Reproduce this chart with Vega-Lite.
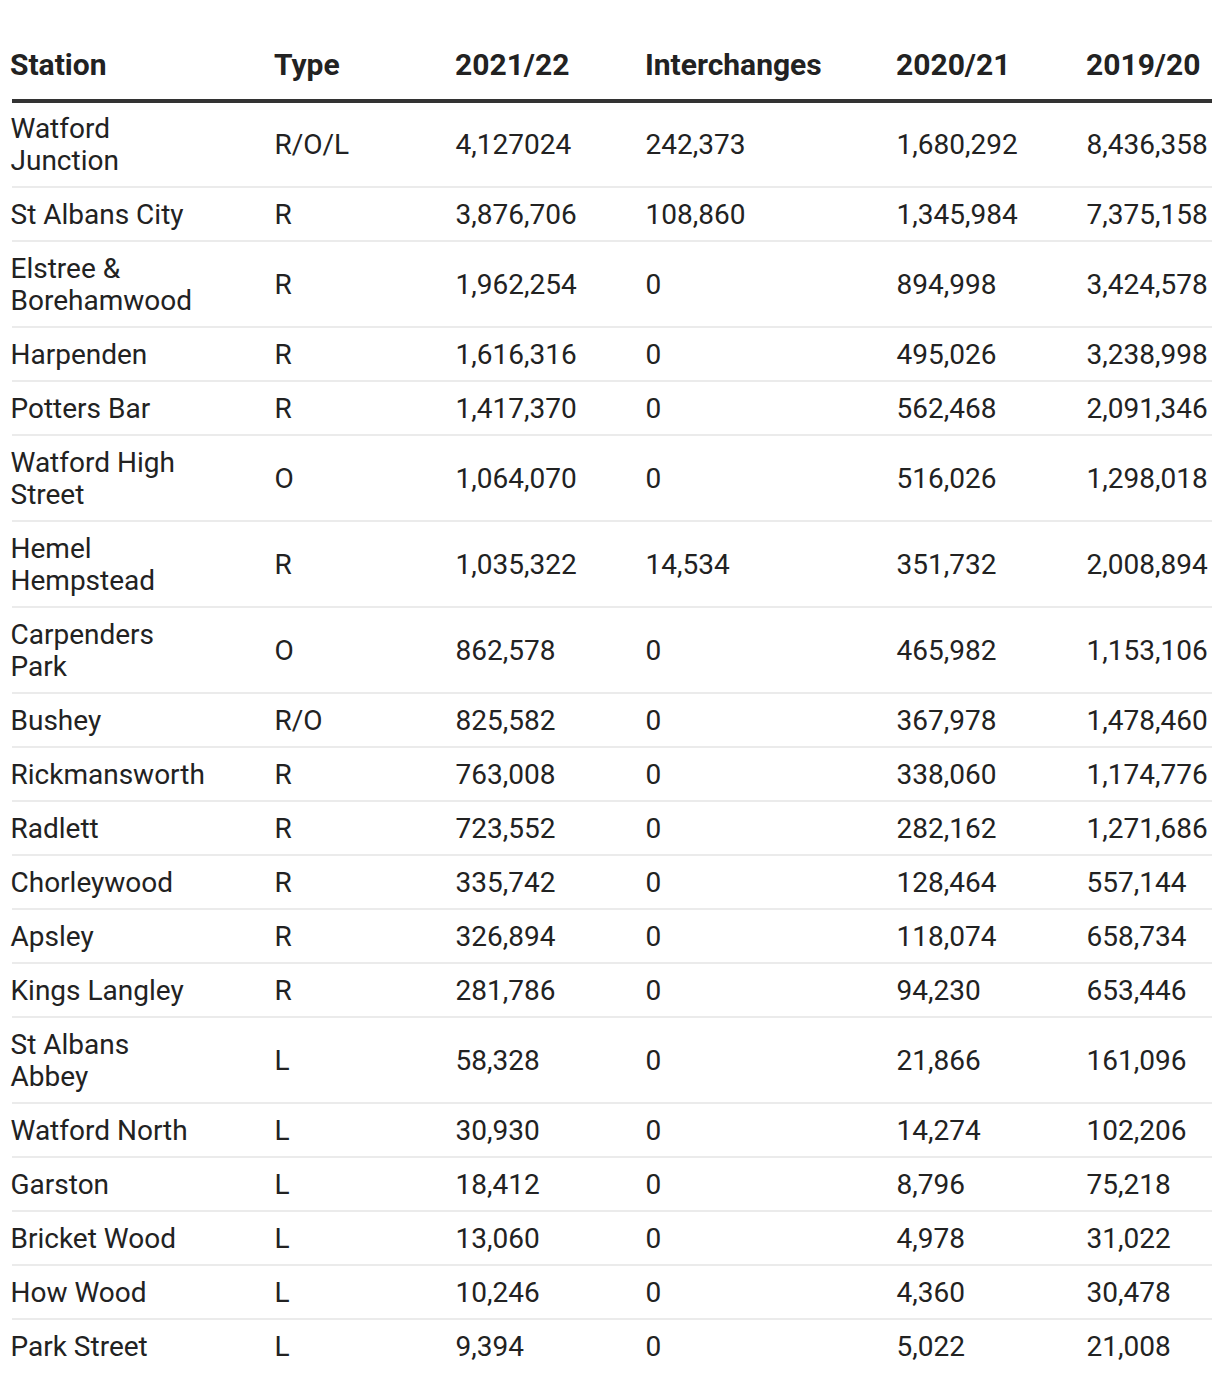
{
  "$schema": "https://vega.github.io/schema/vega-lite/v6.json",
  "padding": {"left": 10, "top": 51, "right": 10, "bottom": 0},
  "background": "white",
  "spacing": 0,
  "bounds": "flush",
  "config": {
    "view": {"stroke": null},
    "font": "Roboto",
    "title": {"anchor": "start", "fontSize": 30, "fontWeight": "bold", "color": "#222222", "font": "Roboto", "offset": 18},
    "text": {"font": "Roboto", "fontSize": 28, "color": "#222222", "align": "left", "baseline": "middle", "lineHeight": 32, "dy": 2, "dx": -1.5},
    "scale": {"nice": false, "zero": false}
  },
  "data": {"values": [
    {"station": ["Watford", "Junction"], "type": "R/O/L", "v2122": "4,127024", "interchanges": "242,373", "v2021": "1,680,292", "v1920": "8,436,358"},
    {"station": ["St Albans City"], "type": "R", "v2122": "3,876,706", "interchanges": "108,860", "v2021": "1,345,984", "v1920": "7,375,158"},
    {"station": ["Elstree &", "Borehamwood"], "type": "R", "v2122": "1,962,254", "interchanges": "0", "v2021": "894,998", "v1920": "3,424,578"},
    {"station": ["Harpenden"], "type": "R", "v2122": "1,616,316", "interchanges": "0", "v2021": "495,026", "v1920": "3,238,998"},
    {"station": ["Potters Bar"], "type": "R", "v2122": "1,417,370", "interchanges": "0", "v2021": "562,468", "v1920": "2,091,346"},
    {"station": ["Watford High", "Street"], "type": "O", "v2122": "1,064,070", "interchanges": "0", "v2021": "516,026", "v1920": "1,298,018"},
    {"station": ["Hemel", "Hempstead"], "type": "R", "v2122": "1,035,322", "interchanges": "14,534", "v2021": "351,732", "v1920": "2,008,894"},
    {"station": ["Carpenders", "Park"], "type": "O", "v2122": "862,578", "interchanges": "0", "v2021": "465,982", "v1920": "1,153,106"},
    {"station": ["Bushey"], "type": "R/O", "v2122": "825,582", "interchanges": "0", "v2021": "367,978", "v1920": "1,478,460"},
    {"station": ["Rickmansworth"], "type": "R", "v2122": "763,008", "interchanges": "0", "v2021": "338,060", "v1920": "1,174,776"},
    {"station": ["Radlett"], "type": "R", "v2122": "723,552", "interchanges": "0", "v2021": "282,162", "v1920": "1,271,686"},
    {"station": ["Chorleywood"], "type": "R", "v2122": "335,742", "interchanges": "0", "v2021": "128,464", "v1920": "557,144"},
    {"station": ["Apsley"], "type": "R", "v2122": "326,894", "interchanges": "0", "v2021": "118,074", "v1920": "658,734"},
    {"station": ["Kings Langley"], "type": "R", "v2122": "281,786", "interchanges": "0", "v2021": "94,230", "v1920": "653,446"},
    {"station": ["St Albans", "Abbey"], "type": "L", "v2122": "58,328", "interchanges": "0", "v2021": "21,866", "v1920": "161,096"},
    {"station": ["Watford North"], "type": "L", "v2122": "30,930", "interchanges": "0", "v2021": "14,274", "v1920": "102,206"},
    {"station": ["Garston"], "type": "L", "v2122": "18,412", "interchanges": "0", "v2021": "8,796", "v1920": "75,218"},
    {"station": ["Bricket Wood"], "type": "L", "v2122": "13,060", "interchanges": "0", "v2021": "4,978", "v1920": "31,022"},
    {"station": ["How Wood"], "type": "L", "v2122": "10,246", "interchanges": "0", "v2021": "4,360", "v1920": "30,478"},
    {"station": ["Park Street"], "type": "L", "v2122": "9,394", "interchanges": "0", "v2021": "5,022", "v1920": "21,008"}
  ]},
  "transform": [
    {"calculate": "length(datum.station)", "as": "nl"},
    {"calculate": "22 + 32 * datum.nl", "as": "h"},
    {"window": [{"op": "sum", "field": "h", "as": "bottom"}, {"op": "row_number", "as": "idx"}], "frame": [null, 0]},
    {"calculate": "datum.bottom - datum.h / 2", "as": "mid"},
    {"calculate": "datum.mid - 16 * (datum.nl - 1)", "as": "firstline"}
  ],
  "hconcat": [
    {
      "width": 264, "height": 1272, "title": "Station",
      "layer": [
        {"transform": [{"filter": "datum.idx < 20"}], "mark": {"type": "rule", "color": "#ebebeb", "strokeWidth": 2},
         "encoding": {"y": {"field": "bottom", "type": "quantitative", "scale": {"domain": [0, 1272], "reverse": true, "nice": false}, "axis": null}}},
        {"transform": [{"filter": "datum.idx == 1"}], "mark": {"type": "rule", "color": "#333333", "strokeWidth": 4},
         "encoding": {"y": {"datum": 0, "type": "quantitative"}}},
        {"mark": {"type": "text"}, "encoding": {"y": {"field": "firstline", "type": "quantitative"}, "x": {"value": 0}, "text": {"field": "station"}}}
      ]
    },
    {
      "width": 181, "height": 1272, "title": "Type",
      "layer": [
        {"transform": [{"filter": "datum.idx < 20"}], "mark": {"type": "rule", "color": "#ebebeb", "strokeWidth": 2},
         "encoding": {"y": {"field": "bottom", "type": "quantitative", "scale": {"domain": [0, 1272], "reverse": true, "nice": false}, "axis": null}}},
        {"transform": [{"filter": "datum.idx == 1"}], "mark": {"type": "rule", "color": "#333333", "strokeWidth": 4},
         "encoding": {"y": {"datum": 0, "type": "quantitative"}}},
        {"mark": {"type": "text"}, "encoding": {"y": {"field": "mid", "type": "quantitative"}, "x": {"value": 0}, "text": {"field": "type"}}}
      ]
    },
    {
      "width": 190, "height": 1272, "title": "2021/22",
      "layer": [
        {"transform": [{"filter": "datum.idx < 20"}], "mark": {"type": "rule", "color": "#ebebeb", "strokeWidth": 2},
         "encoding": {"y": {"field": "bottom", "type": "quantitative", "scale": {"domain": [0, 1272], "reverse": true, "nice": false}, "axis": null}}},
        {"transform": [{"filter": "datum.idx == 1"}], "mark": {"type": "rule", "color": "#333333", "strokeWidth": 4},
         "encoding": {"y": {"datum": 0, "type": "quantitative"}}},
        {"mark": {"type": "text"}, "encoding": {"y": {"field": "mid", "type": "quantitative"}, "x": {"value": 0}, "text": {"field": "v2122"}}}
      ]
    },
    {
      "width": 251, "height": 1272, "title": "Interchanges",
      "layer": [
        {"transform": [{"filter": "datum.idx < 20"}], "mark": {"type": "rule", "color": "#ebebeb", "strokeWidth": 2},
         "encoding": {"y": {"field": "bottom", "type": "quantitative", "scale": {"domain": [0, 1272], "reverse": true, "nice": false}, "axis": null}}},
        {"transform": [{"filter": "datum.idx == 1"}], "mark": {"type": "rule", "color": "#333333", "strokeWidth": 4},
         "encoding": {"y": {"datum": 0, "type": "quantitative"}}},
        {"mark": {"type": "text"}, "encoding": {"y": {"field": "mid", "type": "quantitative"}, "x": {"value": 0}, "text": {"field": "interchanges"}}}
      ]
    },
    {
      "width": 190, "height": 1272, "title": "2020/21",
      "layer": [
        {"transform": [{"filter": "datum.idx < 20"}], "mark": {"type": "rule", "color": "#ebebeb", "strokeWidth": 2},
         "encoding": {"y": {"field": "bottom", "type": "quantitative", "scale": {"domain": [0, 1272], "reverse": true, "nice": false}, "axis": null}}},
        {"transform": [{"filter": "datum.idx == 1"}], "mark": {"type": "rule", "color": "#333333", "strokeWidth": 4},
         "encoding": {"y": {"datum": 0, "type": "quantitative"}}},
        {"mark": {"type": "text"}, "encoding": {"y": {"field": "mid", "type": "quantitative"}, "x": {"value": 0}, "text": {"field": "v2021"}}}
      ]
    },
    {
      "width": 124, "height": 1272, "title": "2019/20",
      "layer": [
        {"transform": [{"filter": "datum.idx < 20"}], "mark": {"type": "rule", "color": "#ebebeb", "strokeWidth": 2},
         "encoding": {"y": {"field": "bottom", "type": "quantitative", "scale": {"domain": [0, 1272], "reverse": true, "nice": false}, "axis": null}}},
        {"transform": [{"filter": "datum.idx == 1"}], "mark": {"type": "rule", "color": "#333333", "strokeWidth": 4},
         "encoding": {"y": {"datum": 0, "type": "quantitative"}}},
        {"mark": {"type": "text"}, "encoding": {"y": {"field": "mid", "type": "quantitative"}, "x": {"value": 0}, "text": {"field": "v1920"}}}
      ]
    }
  ]
}
